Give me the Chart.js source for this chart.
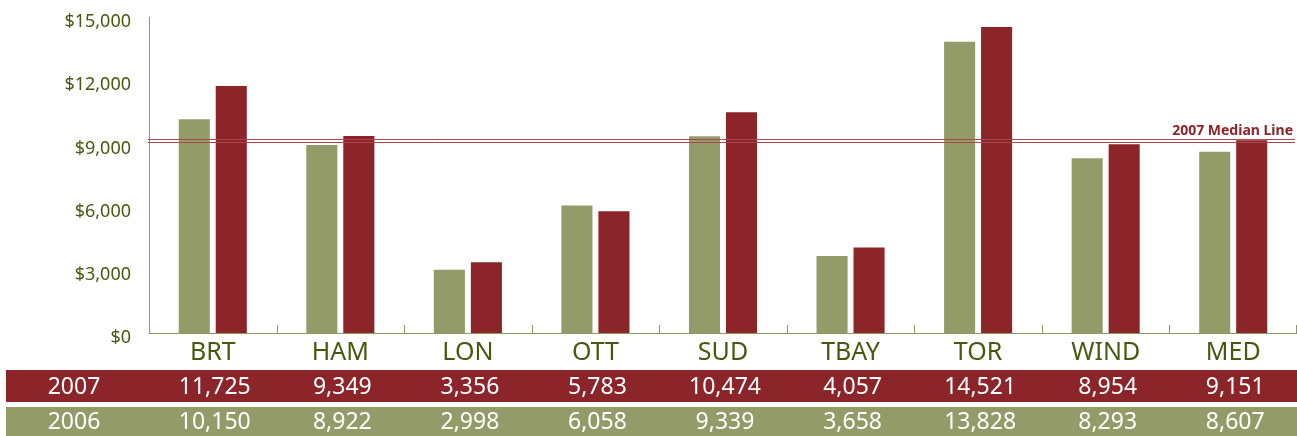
<!DOCTYPE html>
<html>
<head>
<meta charset="utf-8">
<script src="https://cdn.jsdelivr.net/npm/chart.js@4"></script>
<style>
  body { margin: 0; background: #fff; }
</style>
</head>
<body>
<canvas id="chart" width="1297" height="436"></canvas>
<script>
// data
const categories = ['BRT', 'HAM', 'LON', 'OTT', 'SUD', 'TBAY', 'TOR', 'WIND', 'MED'];
const values2006 = [10150, 8922, 2998, 6058, 9339, 3658, 13828, 8293, 8607];
const values2007 = [11725, 9349, 3356, 5783, 10474, 4057, 14521, 8954, 9151];
const yTicks = [0, 3000, 6000, 9000, 12000, 15000];
const medianLabel = '2007 Median Line';
const median2007 = 9151;

const green = '#939b69';
const red = '#8b2529';
const medianColor = '#a9464b';
const axisColor = '#8c9a5e';
const textColor = '#455a10';
const fontFamily = '"Noto Sans", "Open Sans", sans-serif';

function fmt(v) {
  return v.toLocaleString('en-US');
}

const extras = {
  id: 'extras',
  afterDatasetsDraw(chart) {
    const ctx = chart.ctx;
    const area = chart.chartArea;
    const x = chart.scales.x;
    const y = chart.scales.y;
    ctx.save();

    // little ticks between categories
    ctx.strokeStyle = axisColor;
    ctx.lineWidth = 1;
    for (let i = 1; i <= categories.length; i++) {
      let px = Math.round(x.getPixelForValue(i - 0.5)) + 0.5;
      if (px > chart.width) px = chart.width - 0.5;
      ctx.beginPath();
      ctx.moveTo(px, area.bottom);
      ctx.lineTo(px, area.bottom - 8);
      ctx.stroke();
    }

    // median double line
    const my = y.getPixelForValue(median2007);
    ctx.strokeStyle = medianColor;
    ctx.lineWidth = 1;
    [my - 1.5, my + 1.5].forEach(ly => {
      ctx.beginPath();
      ctx.moveTo(area.left - 1, Math.round(ly) + 0.5);
      ctx.lineTo(area.right - 2, Math.round(ly) + 0.5);
      ctx.stroke();
    });
    ctx.fillStyle = red;
    ctx.font = 'bold 14px ' + fontFamily;
    ctx.textAlign = 'right';
    ctx.textBaseline = 'alphabetic';
    ctx.fillText(medianLabel, area.right - 4, my - 5);

    // data table
    const rows = [
      { label: '2007', data: values2007, color: red, top: 370, h: 32 },
      { label: '2006', data: values2006, color: green, top: 407, h: 29 }
    ];
    ctx.font = '23px ' + fontFamily;
    ctx.textAlign = 'center';
    ctx.textBaseline = 'middle';
    rows.forEach(r => {
      ctx.fillStyle = r.color;
      ctx.fillRect(6, r.top, chart.width - 6, r.h);
      ctx.fillStyle = '#ffffff';
      const cy = r.top + r.h / 2 + 1;
      ctx.fillText(r.label, 74, cy);
      r.data.forEach((v, i) => {
        ctx.fillText(fmt(v), x.getPixelForValue(i) + 2, cy);
      });
    });

    ctx.restore();
  }
};

const ctx = document.getElementById('chart').getContext('2d');
const chart = new Chart(ctx, {
  type: 'bar',
  data: {
    labels: categories,
    datasets: [
      {
        label: '2006',
        data: values2006,
        backgroundColor: green,
        categoryPercentage: 0.58,
        barPercentage: 0.84
      },
      {
        label: '2007',
        data: values2007,
        backgroundColor: red,
        categoryPercentage: 0.58,
        barPercentage: 0.84
      }
    ]
  },
  options: {
    responsive: false,
    animation: false,
    devicePixelRatio: 1,
    layout: { padding: { top: 17, right: 0, left: 0, bottom: 0 } },
    plugins: {
      legend: { display: false },
      tooltip: { enabled: false }
    },
    scales: {
      x: {
        grid: { display: false, drawTicks: false },
        border: { display: true, color: axisColor, width: 1 },
        ticks: {
          color: textColor,
          padding: 5,
          font: { family: fontFamily, size: 25 }
        },
        afterFit(scale) {
          scale.height = 103;
          scale.paddingLeft = 0;
          scale.paddingRight = 0;
        }
      },
      y: {
        min: 0,
        max: 15000,
        grid: { display: false, drawTicks: false },
        border: { display: true, color: axisColor, width: 1 },
        afterBuildTicks(scale) {
          scale.ticks = yTicks.map(v => ({ value: v }));
        },
        ticks: {
          color: textColor,
          padding: 18,
          labelOffset: 5,
          font: { family: fontFamily, size: 18 },
          callback: v => '$' + fmt(v)
        },
        afterFit(scale) {
          scale.width = 149;
          scale.paddingTop = 0;
          scale.paddingBottom = 0;
        }
      }
    }
  },
  plugins: [extras]
});
</script>
</body>
</html>
